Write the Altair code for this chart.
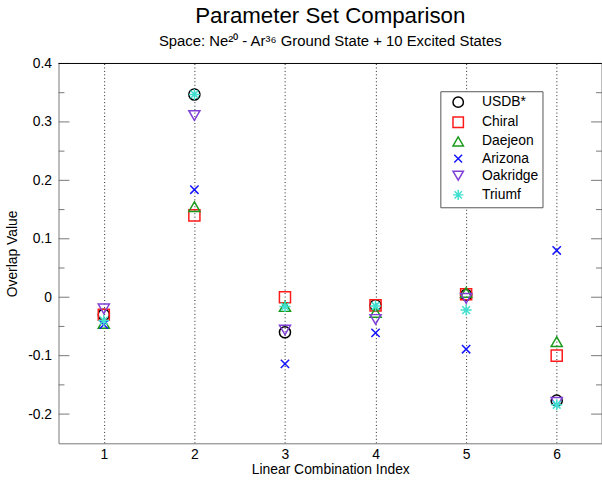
import altair as alt
import pandas as pd

# ---- data ----
indices = [1, 2, 3, 4, 5, 6]
models = ["USDB*", "Chiral", "Daejeon", "Arizona", "Oakridge", "Triumf"]
usdb = [-0.030, 0.347, -0.060, -0.014, 0.004, -0.177]
chiral = [-0.030, 0.140, 0.000, -0.014, 0.005, -0.100]
daejeon = [-0.045, 0.155, -0.016, -0.026, 0.008, -0.076]
arizona = [-0.047, 0.184, -0.114, -0.061, -0.089, 0.080]
oakridge = [-0.020, 0.311, -0.056, -0.038, -0.002, -0.180]
triumf = [-0.040, 0.347, -0.016, -0.015, -0.022, -0.184]
y_major = [-0.2, -0.1, 0.0, 0.1, 0.2, 0.3, 0.4]
y_minor = [-0.15, -0.05, 0.05, 0.15, 0.25, 0.35]

colors = ["#000000", "#ff1a1a", "#1a9a1a", "#1414ff", "#8040d8", "#40e0d0"]
shapes = [
    "circle",
    "square",
    "triangle-up",
    "M-0.75,-0.75L0.75,0.75M-0.75,0.75L0.75,-0.75",
    "triangle-down",
    "M-1,0L1,0M0,-1L0,1M-0.7,-0.7L0.7,0.7M-0.7,0.7L0.7,-0.7",
]

series = [usdb, chiral, daejeon, arizona, oakridge, triumf]
rows = []
for k, (m, vals) in enumerate(zip(models, series)):
    for i, v in zip(indices, vals):
        rows.append({"model": m, "idx": i, "value": v, "ord": k})
df = pd.DataFrame(rows)

W, H = 548, 383
FONT = "Liberation Sans"

xscale = alt.Scale(domain=[0.5, 6.5], nice=False, zero=False)
yscale = alt.Scale(domain=[-0.25, 0.4], nice=False, zero=False)

yaxis = alt.Axis(values=y_major, ticks=False, grid=False, domain=True, domainColor="#777",
                 domainWidth=1, labelPadding=7, titlePadding=8,
                 labelExpr="datum.value == 0 ? '0' : (datum.value < 0 ? '-' + format(-datum.value, '.1f') : format(datum.value, '.1f'))")
xaxis = alt.Axis(values=indices, format="d", grid=True, gridDash=[1, 2.5],
                 gridColor="#222", gridWidth=1, ticks=False, domain=True,
                 domainColor="#777", domainWidth=1, labelPadding=4, titlePadding=1)

points = alt.Chart(df).mark_point(filled=False, size=125, strokeWidth=1.5, opacity=1).encode(
    x=alt.X("idx:Q", scale=xscale, title="Linear Combination Index", axis=xaxis),
    y=alt.Y("value:Q", scale=yscale, title="Overlap Value", axis=yaxis),
    color=alt.Color("model:N", scale=alt.Scale(domain=models, range=colors),
                    legend=alt.Legend(title=None, orient="none", legendX=385, legendY=28,
                                      strokeColor="#555", fillColor="white", padding=4,
                                      labelFontSize=14, labelFont=FONT, labelColor="black",
                                      symbolSize=110, symbolStrokeWidth=1.5,
                                      symbolOffset=7, rowPadding=2.3, labelOffset=17)),
    shape=alt.Shape("model:N", scale=alt.Scale(domain=models, range=shapes), legend=None),
    order=alt.Order("ord:Q"),
)

major_df = pd.DataFrame({"t": y_major})
minor_df = pd.DataFrame({"t": y_minor})

def ticks(data, x1, x2):
    return alt.Chart(data).mark_rule(color="#777", strokeWidth=1).encode(
        y=alt.Y("t:Q", scale=yscale, title="Overlap Value", axis=yaxis),
        x=alt.value(x1), x2=alt.value(x2))

left_major = ticks(major_df, 0, 11)
left_minor = ticks(minor_df, 0, 6)
right_major = ticks(major_df, W, W - 11)
right_minor = ticks(minor_df, W, W - 6)

border_df = pd.DataFrame({"a": [0]})
top_line = alt.Chart(border_df).mark_rule(color="black", strokeWidth=1).encode(
    y=alt.value(0), x=alt.value(0), x2=alt.value(W))
right_line = alt.Chart(border_df).mark_rule(color="#777", strokeWidth=1).encode(
    x=alt.value(W), y=alt.value(0), y2=alt.value(H))

chart = alt.layer(
    points, left_major, left_minor, right_major, right_minor, top_line, right_line
).properties(
    width=W, height=H,
    autosize="none",
    padding={"left": 59, "top": 62, "right": 0, "bottom": 36},
    title=alt.Title("Parameter Set Comparison",
                    subtitle="Space: Ne²⁰ - Ar³⁶ Ground State + 10 Excited States",
                    fontSize=22.5, fontWeight="normal", font=FONT, color="black",
                    subtitleFontSize=15, subtitleFont=FONT, subtitleColor="black",
                    anchor="middle", offset=8, subtitlePadding=6),
).configure_axis(
    labelFont=FONT, labelFontSize=14, labelColor="black",
    titleFont=FONT, titleFontSize=14, titleFontWeight="normal", titleColor="black",
).configure_view(stroke=None)

chart.save("out.html", embed_options={"renderer": "svg", "actions": False})
